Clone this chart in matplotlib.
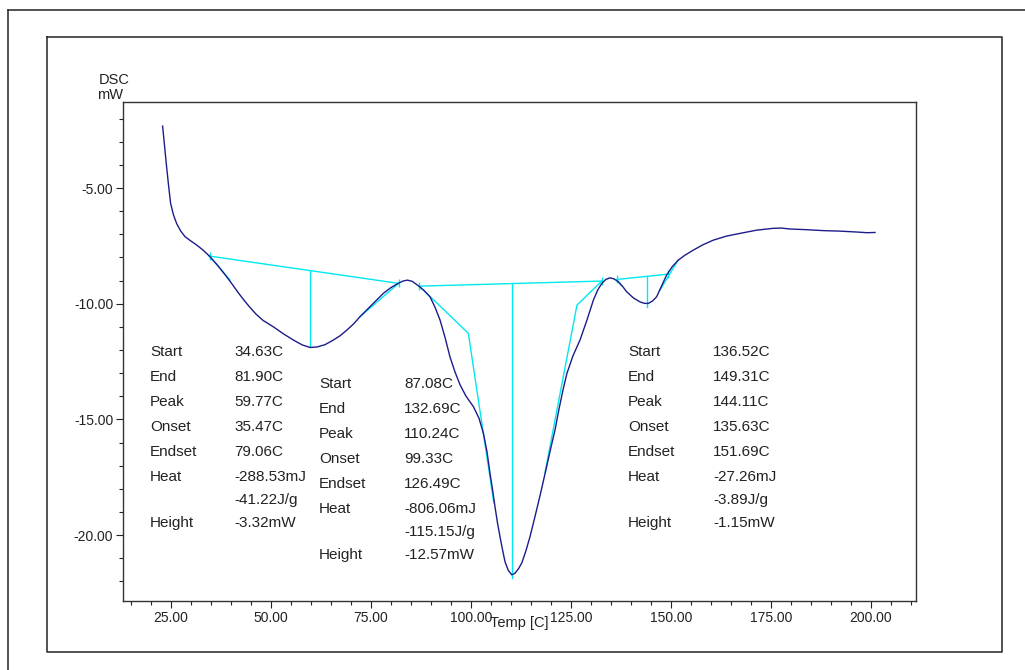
import matplotlib
matplotlib.use("Agg")
import matplotlib.pyplot as plt
from matplotlib.lines import Line2D
from matplotlib.ticker import MultipleLocator, FormatStrFormatter

plt.rcParams["font.family"] = ["Liberation Sans", "DejaVu Sans"]

W, H = 1025, 670

# DSC curve
temp = [22.9, 23.4, 23.9, 24.4, 24.9, 25.6, 26.4, 27.4, 28.5, 29.9, 31.4, 33.0,
        34.6, 36.7, 38.9, 40.4, 41.8, 43.4, 44.75, 46.2, 48.0, 50.6, 53.1, 55.6,
        57.8, 59.75, 61.5, 63.5, 65.6, 67.3, 68.9, 70.6, 72.25, 75.2, 78.1, 80.0,
        81.8, 83.0, 84.1, 85.3, 86.8, 88.2, 89.75, 91.0, 92.25, 93.5, 94.75, 96.0,
        97.25, 98.7, 100.6, 102.0, 103.1, 104.0, 104.75, 105.4, 106.0, 106.6,
        107.25, 107.9, 108.5, 109.3, 110.2, 111.0, 111.9, 112.7, 113.7, 114.75,
        116.0, 117.25, 118.9, 120.0, 121.0, 122.0, 123.1, 124.0, 125.5, 127.25,
        129.0, 130.6, 131.7, 132.7, 133.7, 134.75, 135.8, 136.8, 137.9, 138.9,
        140.6, 142.25, 143.3, 144.3, 145.4, 146.4, 147.6, 148.9, 150.3, 151.8,
        153.5, 155.6, 158.0, 160.6, 163.8, 167.25, 171.4, 175.6, 177.6, 179.75,
        184.0, 188.1, 192.0, 196.4, 199.0, 201.0]
dsc = [-2.32, -3.2, -4.08, -4.9, -5.66, -6.15, -6.53, -6.85, -7.1, -7.28, -7.46, -7.68,
       -7.94, -8.35, -8.83, -9.18, -9.52, -9.88, -10.16, -10.44, -10.72, -11.0, -11.3, -11.57,
       -11.78, -11.89, -11.87, -11.77, -11.57, -11.38, -11.15, -10.88, -10.56, -10.05, -9.55, -9.3,
       -9.12, -9.02, -8.98, -9.03, -9.22, -9.42, -9.7, -10.15, -10.7, -11.45, -12.3, -12.95,
       -13.5, -13.98, -14.45, -14.95, -15.6, -16.4, -17.33, -18.05, -18.78, -19.45,
       -20.07, -20.65, -21.15, -21.52, -21.72, -21.65, -21.45, -21.2, -20.7, -20.07,
       -19.2, -18.3, -17.05, -16.2, -15.46, -14.55, -13.65, -13.0, -12.25, -11.57,
       -10.7, -9.84, -9.4, -9.12, -8.95, -8.88, -8.93, -9.05, -9.25, -9.48,
       -9.75, -9.92, -9.98, -9.99, -9.88, -9.7, -9.25, -8.76, -8.4, -8.12,
       -7.9, -7.68, -7.45, -7.25, -7.08, -6.96, -6.82, -6.74, -6.73, -6.77,
       -6.80, -6.84, -6.86, -6.9, -6.93, -6.92]

# analysis lines (baselines, tangents, peak heights)
base1_t = [34.63, 81.90]
base1_y = [-7.94, -9.12]
tan1a_t = [34.63, 39.75]
tan1a_y = [-7.94, -8.98]
tan1b_t = [72.25, 81.90]
tan1b_y = [-10.56, -9.12]
peak1_t = [59.77, 59.77]
peak1_y = [-8.57, -11.89]

base2_t = [87.08, 132.69]
base2_y = [-9.24, -9.02]
tan2a_t = [87.08, 99.33, 105.7]
tan2a_y = [-9.24, -11.28, -18.6]
tan2b_t = [132.69, 126.49, 118.5]
tan2b_y = [-9.02, -10.06, -17.3]
peak2_t = [110.24, 110.24]
peak2_y = [-9.13, -21.86]

base3_t = [136.52, 149.31]
base3_y = [-8.95, -8.72]
tan3a_t = [136.52, 137.6]
tan3a_y = [-8.95, -9.22]
tan3b_t = [147.25, 151.8]
tan3b_y = [-9.41, -8.11]
peak3_t = [144.11, 144.11]
peak3_y = [-8.82, -10.13]

row_names = ["Start", "End", "Peak", "Onset", "Endset", "Heat", "", "Height"]
vals1 = ["34.63C", "81.90C", "59.77C", "35.47C", "79.06C", "-288.53mJ", "-41.22J/g", "-3.32mW"]
vals2 = ["87.08C", "132.69C", "110.24C", "99.33C", "126.49C", "-806.06mJ", "-115.15J/g", "-12.57mW"]
vals3 = ["136.52C", "149.31C", "144.11C", "135.63C", "151.69C", "-27.26mJ", "-3.89J/g", "-1.15mW"]

fig = plt.figure(figsize=(W / 100, H / 100), dpi=100)


def fx(px):
    return px / W


def fy(py):
    return 1 - py / H


ax = fig.add_axes([fx(123), fy(601), fx(916) - fx(123), fy(102) - fy(601)])

navy = "#1c1c8a"
cyan = "#00e8f0"

ax.plot(temp, dsc, color=navy, lw=1.0, zorder=3)

for t, y in [(base1_t, base1_y), (tan1a_t, tan1a_y), (tan1b_t, tan1b_y), (peak1_t, peak1_y),
             (base2_t, base2_y), (tan2a_t, tan2a_y), (tan2b_t, tan2b_y), (peak2_t, peak2_y),
             (base3_t, base3_y), (tan3a_t, tan3a_y), (tan3b_t, tan3b_y), (peak3_t, peak3_y)]:
    ax.plot(t, y, color=cyan, lw=1.0, zorder=2)

for t, y in [(base1_t, base1_y), (base2_t, base2_y), (base3_t, base3_y)]:
    ax.plot(t, y, ls="none", marker="|", ms=6, mew=1.0, color=cyan, zorder=2)

ax.set_xlim(13, 211.25)
ax.set_ylim(-22.85, -1.28)
ax.xaxis.set_major_locator(MultipleLocator(25))
ax.xaxis.set_minor_locator(MultipleLocator(5))
ax.yaxis.set_major_locator(MultipleLocator(5))
ax.yaxis.set_minor_locator(MultipleLocator(1))
ax.xaxis.set_major_formatter(FormatStrFormatter("%.2f"))
ax.yaxis.set_major_formatter(FormatStrFormatter("%.2f"))
ax.tick_params(which="major", direction="out", length=5, width=0.8, labelsize=10,
               colors="#222222", pad=2)
ax.tick_params(which="minor", direction="out", length=3, width=0.8, colors="#222222")
for s in ax.spines.values():
    s.set_linewidth(1.0)
    s.set_color("#333333")

ax.text(0.5, -0.044, "Temp [C]", transform=ax.transAxes, ha="center", va="center",
        fontsize=10.5, color="#222222")
fig.text(fx(130), fy(80), "DSC", ha="right", va="center", fontsize=10.5, color="#222222")
fig.text(fx(123), fy(95), "mW", ha="right", va="center", fontsize=10.5, color="#222222")

blocks = [(150, 234, 352, vals1), (319, 404, 384, vals2), (628, 713, 352, vals3)]
row_off = [0, 25, 50, 75, 100, 125, 148, 171]
for xl, xv, y0, vals in blocks:
    for name, v, dy in zip(row_names, vals, row_off):
        if name:
            fig.text(fx(xl), fy(y0 + dy), name, ha="left", va="center",
                     fontsize=11, color="#222222")
        fig.text(fx(xv), fy(y0 + dy), v, ha="left", va="center",
                 fontsize=11, color="#222222")

# page frames
frame_kw = dict(color="#333333", lw=1.2, transform=fig.transFigure)
fig.add_artist(Line2D([fx(8), fx(8)], [0, fy(10)], **frame_kw))
fig.add_artist(Line2D([fx(8), 1], [fy(10), fy(10)], **frame_kw))
fig.add_artist(Line2D([fx(47), fx(1002), fx(1002), fx(47), fx(47)],
                      [fy(37), fy(37), fy(652), fy(652), fy(37)], **frame_kw))

fig.savefig("out.png", dpi=100)
